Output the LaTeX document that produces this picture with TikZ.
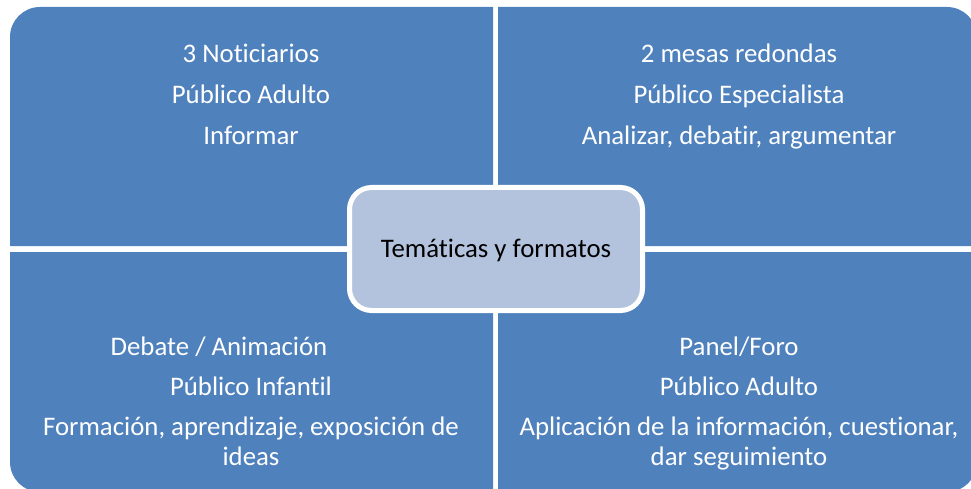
\documentclass[tikz,border=0pt]{standalone}
\usepackage{fontspec}
\setmainfont{Carlito}[Ligatures={NoCommon,NoContextual}]
\definecolor{quadblue}{RGB}{79,129,189}
\definecolor{centerfill}{RGB}{180,195,221}
\begin{document}
\begin{tikzpicture}[x=1pt,y=1pt,
  quad/.style={fill=quadblue},
  qtext/.style={text=white,anchor=base,inner sep=0pt,font=\fontsize{26.8}{30}\selectfont},
  ctext/.style={text=black,anchor=base,inner sep=0pt,font=\fontsize{26.8}{30}\selectfont},
  hub/.style={draw=white,line width=5pt,fill=centerfill,rounded corners=22pt,minimum width=293pt,minimum height=123pt,inner sep=0pt}]
\useasboundingbox (0,0) rectangle (971,-489);
% quadrants
\fill[quad] (10,-246) -- (10,-37) arc[start angle=180,end angle=90,radius=30] -- (493,-7) -- (493,-246) -- cycle;
\fill[quad] (498,-246) -- (498,-7) -- (947,-7) arc[start angle=90,end angle=0,radius=30] -- (977,-246) -- cycle;
\fill[quad] (10,-252) -- (493,-252) -- (493,-492) -- (40,-492) arc[start angle=270,end angle=180,radius=30] -- cycle;
\fill[quad] (498,-252) -- (977,-252) -- (977,-462) arc[start angle=0,end angle=-90,radius=30] -- (498,-492) -- cycle;
% top-left text
\node[qtext] (tl1) at (251,-63) {3 Noticiarios};
\node[qtext] (tl2) at (251,-104) {Público Adulto};
\node[qtext] (tl3) at (251,-145) {Informar};
% top-right text
\node[qtext] (tr1) at (739,-63) {2 mesas redondas};
\node[qtext] (tr2) at (739,-104) {Público Especialista};
\node[qtext] (tr3) at (739,-145) {Analizar, debatir, argumentar};
% bottom-left text
\node[qtext] (bl1) at (219,-355) {Debate / Animación};
\node[qtext] (bl2) at (251,-395) {Público Infantil};
\node[qtext] (bl3) at (251,-435) {Formación, aprendizaje, exposición de};
\node[qtext] (bl4) at (251,-465) {ideas};
% bottom-right text
\node[qtext] (br1) at (739,-355) {Panel/Foro};
\node[qtext] (br2) at (739,-395) {Público Adulto};
\node[qtext] (br3) at (739,-435) {Aplicación de la información, cuestionar,};
\node[qtext] (br4) at (739,-465) {dar seguimiento};
% centre
\node[hub] (hub) at (496,-249) {};
\node[ctext] (hubtext) at (496,-257) {Temáticas y formatos};
\end{tikzpicture}
\end{document}
